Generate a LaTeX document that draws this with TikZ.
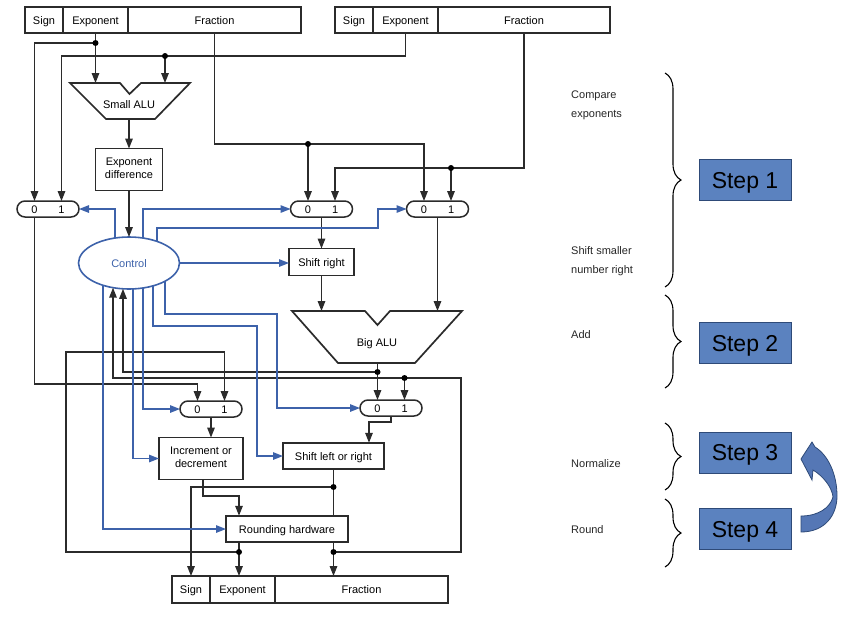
\documentclass[tikz,border=0pt]{standalone}
\usepackage{fontspec}
\setmainfont{Liberation Sans}
\usetikzlibrary{shapes.misc,shapes.geometric,arrows.meta,calc,decorations.pathreplacing}
\definecolor{wire}{HTML}{2B2B2B}
\definecolor{ctl}{HTML}{3D62AA}
\definecolor{stepfill}{HTML}{5B82BF}
\definecolor{stepline}{HTML}{2E4A78}
\definecolor{arrfill}{HTML}{5577B5}
\newcommand{\twoline}[2]{\raisebox{-1pt}{\begin{tabular}{@{}c@{}}#1\\#2\end{tabular}}}
\begin{document}
\begin{tikzpicture}[x=1pt,y=-1pt,
  font=\fontsize{11}{13.3}\selectfont,
  box/.style={draw=wire, line width=1.7pt, inner sep=0pt, outer sep=0pt, text=black},
  one/.style={text height=9.5pt, text depth=1.5pt},
  cell/.style={box, one, minimum height=26, anchor=west},
  mux/.style={draw=wire, line width=1.5pt, rounded rectangle, one, minimum width=62, minimum height=16, inner sep=0pt, outer sep=0pt},
  wireln/.style={draw=wire, line width=1.5pt},
  arr/.style={wireln, -{Triangle[length=10pt,width=7.5pt]}},
  barr/.style={draw=ctl, line width=1.4pt, -{Triangle[length=10pt,width=7.5pt]}},
  side/.style={anchor=west, one, inner sep=0pt, text=black!85},
  stepbox/.style={draw=stepline, fill=stepfill, line width=1pt, minimum width=92, minimum height=41, inner sep=0pt, text height=16.5pt, text depth=0pt, font=\fontsize{23}{27}\selectfont, text=black},
  brc/.style={draw=black, decorate, decoration={brace, amplitude=16pt}, line width=1.1pt}
]
\useasboundingbox (0,0) rectangle (841,622);

% ---------- input records ----------
\node[cell, minimum width=38] (s1) at (25,20) {Sign};
\node[cell, minimum width=65] (e1) at (63,20) {Exponent};
\node[cell, minimum width=173] (f1) at (128,20) {Fraction};
\node[cell, minimum width=38] (s2) at (335,20) {Sign};
\node[cell, minimum width=65] (e2) at (373,20) {Exponent};
\node[cell, minimum width=172] (f2) at (438,20) {Fraction};

% ---------- result record ----------
\node[cell, minimum width=38, minimum height=27] (rs) at (172,589.5) {Sign};
\node[cell, minimum width=65, minimum height=27] (re) at (210,589.5) {Exponent};
\node[cell, minimum width=173, minimum height=27] (rf) at (275,589.5) {Fraction};

% ---------- small ALU ----------
\draw[draw=wire, line width=1.7pt] (70,83) -- (120,83) -- (129.5,94) -- (141,83) -- (190,83) -- (155,119) -- (106,119) -- cycle;
\node[one, inner sep=0pt] (salu) at (129,104) {Small ALU};
\coordinate (saTop) at (0,83);
\coordinate (saout) at (129,119);

\node[box, minimum width=67, minimum height=42] (ediff) at (129,169.5) {\twoline{Exponent}{difference}};

% ---------- control ----------
\node[draw=ctl, line width=1.6pt, ellipse, one, minimum width=101, minimum height=52, inner sep=0pt, outer sep=0pt, text=ctl] (ctrl) at (129,263) {Control};

% ---------- multiplexors ----------
\node[mux] (m1) at (48,209) {0\hspace{21pt}1};
\node[mux] (m2) at (321.5,209) {0\hspace{21pt}1};
\node[mux] (m3) at (437.5,209) {0\hspace{21pt}1};
\node[mux] (m5) at (211,409) {0\hspace{21pt}1};
\node[mux] (m6) at (391,408) {0\hspace{21pt}1};
\foreach \m in {m1,m2,m3,m5,m6}{
  \coordinate (\m a) at ([xshift=-13.5pt]\m.north);
  \coordinate (\m b) at ([xshift=13.5pt]\m.north);
}

% ---------- datapath boxes ----------
\node[box, one, minimum width=65, minimum height=27] (shr) at (321.5,262) {Shift right};
\draw[draw=wire, line width=1.7pt] (292,311) -- (365,311) -- (377.5,325) -- (390,311) -- (462,311) -- (415,363) -- (338,363) -- cycle;
\node[one, inner sep=0pt] (balu) at (377,342) {Big ALU};
\coordinate (baluTop) at (0,311);
\coordinate (baout) at (377.5,363);

\node[box, minimum width=84, minimum height=42] (incdec) at (201,458.5) {\twoline{Increment or}{decrement}};
\node[box, one, minimum width=101, minimum height=26.5] (slr) at (333.5,456) {Shift left or right};
\node[box, one, minimum width=122, minimum height=26.5] (rnd) at (287,529) {Rounding hardware};

% ---------- junctions ----------
\coordinate (d1) at ($(e1.south)+(0,10)$);
\coordinate (d2) at (165,56);
\coordinate (d3) at (m2a |- 0,144);
\coordinate (d4) at (m3b |- 0,168);
\coordinate (d5) at (377.5,372);
\coordinate (d6) at (m6b |- 0,378);
\coordinate (d7) at (333.5,552);
\coordinate (d8) at (239,552);
\coordinate (d9) at (333.5,487);
\coordinate (r1) at (461,552);
\coordinate (r2) at (461,378);
\coordinate (k1) at (m1a |- 0,384);
\coordinate (l1) at (66,552);
\coordinate (l2) at (m5b |- 0,352);
\coordinate (j1) at (203,496);
\coordinate (k2) at (391,422);
\coordinate (slrIn) at ([xshift=35.5pt]slr.north);
\coordinate (cin1) at ($(ctrl.center)+(-16,24.7)$);
\coordinate (cin2) at ($(ctrl.center)+(-6,25.8)$);

% ---------- black wires ----------
\draw[arr] (e1.south) -- (d1) -| (m1a);
\draw[arr] (d1) -- (d1 |- saTop);
\draw[arr] (e2.south) |- (d2) -| (m1b);
\draw[arr] (d2) -- (d2 |- saTop);
\draw[arr] (saout) -- (ediff.north);
\draw[arr] (ediff.south) -- (ctrl.north);
\draw[arr] (f1.south) |- (d3) -| (m3a);
\draw[arr] (d3) -- (m2a);
\draw[arr] (f2.south) |- (d4) -| (m2b);
\draw[arr] (d4) -- (m3b);
\draw[arr] (m2.south) -- (shr.north);
\draw[arr] (shr.south) -- (shr.south |- baluTop);
\draw[arr] (m3.south) -- (m3.south |- baluTop);
\draw[wireln] (baout) -- (d5);
\draw[arr] (d5) -- (m6a);
\draw[arr] (d5) -| (cin2);
\draw[arr] (d7) -- (r1) -- (r2) -| (cin1);
\draw[arr] (d6) -- (m6b);
\draw[arr] (m1a |- m1.south) -- (k1) -| (m5a);
\draw[arr] (d8) -- (l1) |- (l2) -- (m5b);
\draw[arr] (m5.south) -- (m5.south |- incdec.north);
\draw[arr] (j1 |- incdec.south) -- (j1) -| (d8 |- rnd.north);
\draw[arr] (m6.south) -- (k2) -| (slrIn);
\draw[wireln] (slr.south) -- (d9) -- (d9 |- rnd.north);
\draw[arr] (d9) -| (rs.north);
\draw[wireln] (d8 |- rnd.south) -- (d8);
\draw[arr] (d8) -- (d8 |- re.north);
\draw[wireln] (d7 |- rnd.south) -- (d7);
\draw[arr] (d7) -- (d7 |- rf.north);
\foreach \p in {d1,d2,d3,d4,d5,d6,d7,d8,d9}
  \fill[black] (\p) circle (3);

% ---------- control wires ----------
\coordinate (b3) at (378,228);
\coordinate (b8) at (257,326);
\coordinate (b9) at (277,314);
\draw[barr] ($(ctrl.center)+(-14,-25)$) |- (m1.east);
\draw[barr] ($(ctrl.center)+(14,-25)$) |- (m2.west);
\draw[barr] ($(ctrl.center)+(28,-21.6)$) |- (b3) |- (m3.west);
\draw[barr] (ctrl.east) -- (ctrl.east -| shr.west);
\draw[barr] ($(ctrl.center)+(-26,22.3)$) |- (rnd.west);
\draw[barr] ($(ctrl.center)+(4,25.9)$) |- (incdec.west);
\draw[barr] ($(ctrl.center)+(14,25)$) |- (m5.west);
\draw[barr] ($(ctrl.center)+(24,22.9)$) |- (b8) |- (slr.west);
\draw[barr] ($(ctrl.center)+(36,18.2)$) |- (b9) |- (m6.west);

% ---------- step annotations ----------
\node[side] (t1) at (571,94) {Compare};
\node[side] (t2) at (571,113) {exponents};
\node[side] (t3) at (571,250) {Shift smaller};
\node[side] (t4) at (571,269) {number right};
\node[side] (t5) at (571,334) {Add};
\node[side] (t6) at (571,463) {Normalize};
\node[side] (t7) at (571,529) {Round};

\draw[brc] (665,73) -- (665,287);
\draw[brc] (665,295) -- (665,388);
\draw[brc] (665,423) -- (665,490);
\draw[brc] (665,499) -- (665,567);

\node[stepbox] (st1) at (745,180) {Step 1};
\node[stepbox] (st2) at (745,343) {Step 2};
\node[stepbox] (st3) at (745,452.5) {Step 3};
\node[stepbox] (st4) at (745,529) {Step 4};

% ---------- curved arrow ----------
\filldraw[fill=arrfill, draw=stepline, line width=0.8pt]
  (801,532) .. controls (825,532) and (837,515) .. (837,496)
  .. controls (837,474) and (828,455) .. (815,447)
  -- (812,442) -- (801,459) -- (812,480) -- (813,470)
  .. controls (823,476) and (832,487) .. (833,497)
  .. controls (830,508) and (818,516) .. (801,516) -- cycle;
\end{tikzpicture}
\end{document}
